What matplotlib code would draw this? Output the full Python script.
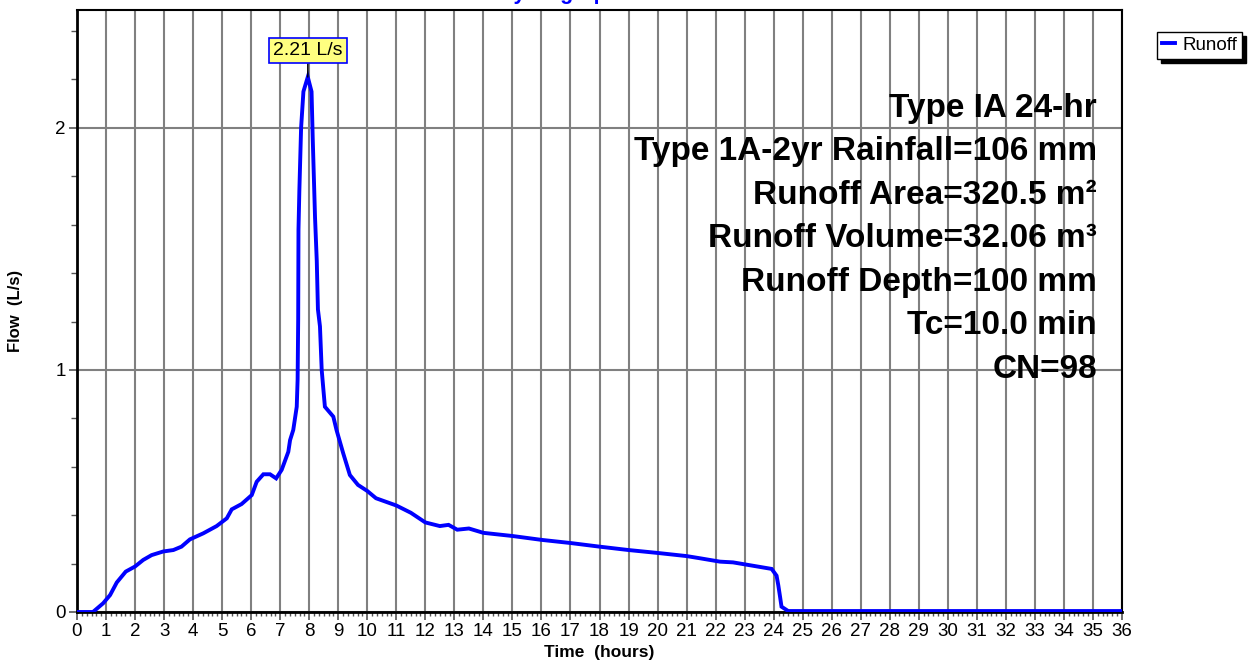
import numpy as np
import matplotlib.pyplot as plt
from matplotlib.ticker import MultipleLocator

plt.rcParams['font.family'] = ['Liberation Sans', 'DejaVu Sans']

# hydrograph (hours, L/s)
time_hr = [0, 0.55, 0.9, 1.14, 1.37, 1.68, 2.0, 2.28, 2.57, 2.97, 3.32, 3.6,
           3.89, 4.35, 4.81, 5.16, 5.33, 5.67, 6.02, 6.19, 6.42, 6.65, 6.86,
           7.05, 7.28, 7.34, 7.45, 7.57, 7.60, 7.62, 7.63, 7.66, 7.72, 7.80,
           7.95, 8.08, 8.12, 8.20, 8.26, 8.30, 8.37, 8.43, 8.48, 8.54, 8.83,
           8.94, 9.17, 9.40, 9.68, 10.0, 10.3, 11.0, 11.5, 12.0, 12.5, 12.8,
           13.1, 13.5, 14.0, 15.0, 16.0, 17.0, 18.0, 19.0, 20.0, 21.0, 21.46,
           22.15, 22.6, 23.93, 24.1, 24.16, 24.22, 24.27, 24.5, 36.0]
flow_ls = [0, 0.0, 0.036, 0.07, 0.122, 0.167, 0.188, 0.215, 0.235, 0.25,
           0.256, 0.27, 0.30, 0.325, 0.355, 0.387, 0.424, 0.446, 0.483, 0.538,
           0.569, 0.569, 0.552, 0.587, 0.662, 0.71, 0.752, 0.848, 0.96, 1.21,
           1.58, 1.74, 2.0, 2.15, 2.21, 2.15, 1.96, 1.63, 1.45, 1.25, 1.18,
           1.0, 0.93, 0.848, 0.807, 0.752, 0.656, 0.566, 0.525, 0.50, 0.47,
           0.44, 0.41, 0.37, 0.355, 0.36, 0.34, 0.345, 0.327, 0.314, 0.298,
           0.285, 0.27, 0.256, 0.244, 0.231, 0.222, 0.208, 0.205, 0.178,
           0.15, 0.11, 0.063, 0.022, 0.004, 0.004]

peak_label = '2.21 L/s'
info_lines = ['Type IA 24-hr', 'Type 1A-2yr Rainfall=106 mm',
              'Runoff Area=320.5 m²', 'Runoff Volume=32.06 m³',
              'Runoff Depth=100 mm', 'Tc=10.0 min', 'CN=98']

fig = plt.figure(figsize=(12.49, 6.61), dpi=100, facecolor='white')
ax = fig.add_axes([77 / 1249, 1 - 612 / 661, 1045 / 1249, 602 / 661])

ax.plot(time_hr, flow_ls, color='#0000ff', lw=2.8, zorder=3, label='Runoff',
        solid_joinstyle='miter')

ax.set_xlim(0, 36)
ax.set_ylim(0, 2.487)
ax.xaxis.set_major_locator(MultipleLocator(1))
ax.xaxis.set_minor_locator(MultipleLocator(1 / 6))
ax.yaxis.set_major_locator(MultipleLocator(1))
ax.yaxis.set_minor_locator(MultipleLocator(0.2))
ax.tick_params(axis='both', which='major', direction='out', length=6,
               width=1.2, labelsize=13.5, color='#555555', pad=2)
ax.tick_params(axis='both', which='minor', direction='out', length=3,
               width=1, color='#555555')
ax.tick_params(axis='y', which='minor', length=4)

ax.grid(True, which='major', color='#808080', lw=1.5, zorder=1)
for side in ['left', 'bottom']:
    ax.spines[side].set_linewidth(2)
for side in ['top', 'right']:
    ax.spines[side].set_linewidth(1.5)

ax.set_xlabel('Time  (hours)', fontsize=12.5, fontweight='bold')
ax.set_ylabel('Flow  (L/s)', fontsize=12, fontweight='bold')
ax.xaxis.set_label_coords(0.5, -0.055)
ax.yaxis.set_label_coords(-0.052, 0.5)

# peak callout
i_pk = int(np.argmax(flow_ls))
ax.annotate(peak_label, xy=(time_hr[i_pk], flow_ls[i_pk]),
            xytext=(time_hr[i_pk], 2.32), ha='center', va='center',
            fontsize=14, zorder=5,
            bbox=dict(boxstyle='square,pad=0.22', fc='#ffff80', ec='#0000ff', lw=1.2),
            arrowprops=dict(arrowstyle='-', color='black', lw=1, shrinkA=0, shrinkB=0))

# storm info block
y0 = 1 - 116.7 / 661
for k, line in enumerate(info_lines):
    fig.text(1097 / 1249, y0 - k * 43.5 / 661, line, ha='right', va='baseline',
             fontsize=24, fontweight='bold', zorder=6)

fig.text(560 / 1249, 1.0015, 'Hydrograph', ha='center', va='baseline',
         fontsize=15.5, fontweight='bold', color='#0000ff')

leg = fig.legend(loc='upper left', bbox_to_anchor=(1157 / 1249, 1 - 32 / 661),
                 fontsize=13.5, frameon=True, fancybox=False, handlelength=0.7,
                 handletextpad=0.4, borderpad=0.25, borderaxespad=0,
                 shadow={'color': 'black', 'alpha': 1, 'ox': 3, 'oy': -3})
leg.get_frame().set_edgecolor('black')
leg.get_frame().set_linewidth(1)
leg.get_frame().set_alpha(1)

fig.savefig('out.png', dpi=100)
